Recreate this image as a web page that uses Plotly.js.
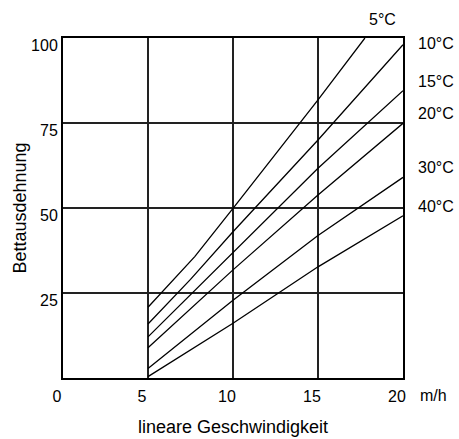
<!DOCTYPE html>
<html>
<head>
<meta charset="utf-8">
<script src="https://cdn.plot.ly/plotly-3.0.1.min.js"></script>
<style>html,body{margin:0;padding:0;background:#fff}#chart{width:459px;height:439px}</style>
</head>
<body>
<div id="chart"></div>
<script>
// Data (x: linear velocity m/h, y: bed expansion)
const temperatures = ['5°C', '10°C', '15°C', '20°C', '30°C', '40°C'];
const speed5C = [5, 7.75, 10, 15, 17.76];
const speed = [5, 7.5, 10, 15, 20];
const exp5C = [20.8, 35.7, 49.9, 81.8, 100];
const exp10C = [15.9, 29, 43, 70, 98];
const exp15C = [12.1, 24.5, 37.1, 61.7, 84.5];
const exp20C = [8.9, 20.3, 31.8, 53.8, 74.9];
const exp30C = [2.8, 12.8, 22.9, 41.9, 59];
const exp40C = [0.4, 8.2, 16.1, 32.7, 47.7];
const xTicks = [0, 5, 10, 15, 20];
const yTicks = [25, 50, 75, 100];

const seriesX = [speed5C, speed, speed, speed, speed, speed];
const seriesY = [exp5C, exp10C, exp15C, exp20C, exp30C, exp40C];

const FONT = 'Liberation Sans, Arial, sans-serif';

const traces = temperatures.map((t, i) => ({
  type: 'scatter', mode: 'lines', name: t,
  x: seriesX[i], y: seriesY[i],
  line: {color: '#000', width: 1.3},
  hoverinfo: 'x+y+name', cliponaxis: true
}));

// label placement in paper coordinates (layout only)
const labelPos = [
  {x: 0.94, y: 1.054, xanchor: 'center'},
  {x: 1.038, y: 0.985, xanchor: 'left'},
  {x: 1.038, y: 0.871, xanchor: 'left'},
  {x: 1.038, y: 0.779, xanchor: 'left'},
  {x: 1.038, y: 0.618, xanchor: 'left'},
  {x: 1.038, y: 0.503, xanchor: 'left'}
];
const annotations = temperatures.map((t, i) => ({
  text: t, xref: 'paper', yref: 'paper', x: labelPos[i].x, y: labelPos[i].y,
  xanchor: labelPos[i].xanchor, yanchor: 'middle', showarrow: false,
  font: {family: FONT, size: 16, color: '#000'}
}));
annotations.push({
  text: 'm/h', xref: 'paper', yref: 'paper', x: 1.09, y: 0, yanchor: 'top', yshift: -7,
  xanchor: 'center', showarrow: false, font: {family: FONT, size: 16, color: '#000'}
});

const layout = {
  width: 459, height: 439,
  margin: {l: 63, r: 56, t: 38, b: 61, pad: 0},
  paper_bgcolor: '#fff', plot_bgcolor: '#fff',
  showlegend: false,
  font: {family: FONT, size: 16, color: '#000'},
  xaxis: {
    range: [0, 20], tickvals: xTicks, ticktext: xTicks.map(String),
    showgrid: true, gridcolor: '#222', gridwidth: 1.2,
    showline: true, linecolor: '#000', linewidth: 2, mirror: true,
    zeroline: false, ticks: '', ticklabelshift: -6, ticklabelstandoff: 3,
    tickfont: {family: FONT, size: 16, color: '#000'},
    title: {text: 'lineare Geschwindigkeit', font: {family: FONT, size: 18, color: '#000'}, standoff: 16}
  },
  yaxis: {
    range: [0, 100], tickvals: yTicks, ticktext: yTicks.map(String),
    showgrid: true, gridcolor: '#222', gridwidth: 1.2,
    showline: true, linecolor: '#000', linewidth: 2, mirror: true,
    zeroline: false, ticks: '', ticklabelshift: 7,
    tickfont: {family: FONT, size: 16, color: '#000'},
    title: {text: 'Bettausdehnung', font: {family: FONT, size: 18, color: '#000'}, standoff: 0}
  },
  annotations: annotations
};

Plotly.newPlot('chart', traces, layout, {displayModeBar: false, staticPlot: true});
</script>
</body>
</html>
